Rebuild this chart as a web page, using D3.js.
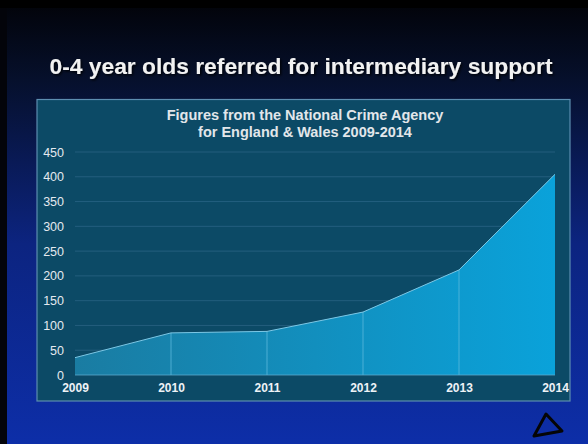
<!DOCTYPE html>
<html>
<head>
<meta charset="utf-8">
<script src="https://cdn.jsdelivr.net/npm/d3@7"></script>
<style>
  html, body { margin: 0; padding: 0; background: #000; }
  svg { display: block; }
</style>
</head>
<body>
<svg id="chart" width="588" height="444"></svg>
<script>
// Data
var years = [2009, 2010, 2011, 2012, 2013, 2014];
var referrals = [35, 85, 88, 127, 212, 405];
var yTicks = [0, 50, 100, 150, 200, 250, 300, 350, 400, 450];
var titleText = "0-4 year olds referred for intermediary support";
var subtitleLines = ["Figures from the National Crime Agency", "for England & Wales 2009-2014"];

var svg = d3.select("#chart"),
    width = +svg.attr("width"),
    height = +svg.attr("height");

var defs = svg.append("defs");

// bakgrund: mörk upptill, blå nertill
var bg = defs.append("linearGradient").attr("id", "bg")
    .attr("x1", 0).attr("y1", 0).attr("x2", 0).attr("y2", 1);
bg.append("stop").attr("offset", "0%").attr("stop-color", "#020308");
bg.append("stop").attr("offset", "18%").attr("stop-color", "#06102c");
bg.append("stop").attr("offset", "55%").attr("stop-color", "#0c2480");
bg.append("stop").attr("offset", "100%").attr("stop-color", "#0d2ea8");

// ytans gradient, mörkare till vänster
var ag = defs.append("linearGradient").attr("id", "areaGrad")
    .attr("x1", 0).attr("y1", 0).attr("x2", 1).attr("y2", 0);
ag.append("stop").attr("offset", "0%").attr("stop-color", "#1a7ca2");
ag.append("stop").attr("offset", "100%").attr("stop-color", "#0aa2da");

var shadow = defs.append("filter").attr("id", "shadow")
    .attr("x", "-5%").attr("y", "-30%").attr("width", "110%").attr("height", "160%");
shadow.append("feDropShadow").attr("dx", 1.5).attr("dy", 1.5)
    .attr("stdDeviation", 1).attr("flood-color", "#000").attr("flood-opacity", 0.8);

svg.append("rect").attr("width", width).attr("height", height).attr("fill", "url(#bg)");
// mörk kant till vänster och upptill
svg.append("rect").attr("width", 7).attr("height", height).attr("fill", "#03040a");
svg.append("rect").attr("width", width).attr("height", 8).attr("fill", "#000");

// titel
svg.append("text")
    .attr("x", 301).attr("y", 74)
    .attr("text-anchor", "middle")
    .attr("fill", "#f2f2f2")
    .attr("filter", "url(#shadow)")
    .style("font-family", "Liberation Sans, Arial, sans-serif")
    .style("font-size", "22.8px")
    .style("font-weight", "bold")
    .text(titleText);

// panel
svg.append("rect")
    .attr("x", 37).attr("y", 99.5)
    .attr("width", 533).attr("height", 301.5)
    .attr("fill", "#0c4a66")
    .attr("stroke", "#5d8eb0")
    .attr("stroke-width", 1.2);

subtitleLines.forEach(function(t, i) {
    svg.append("text")
        .attr("x", 305).attr("y", 120 + i * 16.5)
        .attr("text-anchor", "middle")
        .attr("fill", "#e2e6ea")
        .style("font-family", "Liberation Sans, Arial, sans-serif")
        .style("font-size", "14.5px")
        .style("font-weight", "bold")
        .text(t);
});

// skalor
var x = d3.scaleLinear().domain([2009, 2014]).range([75, 555]);
var y = d3.scaleLinear().domain([0, 450]).range([375, 152]);

// rutnät
svg.append("g").selectAll("line")
    .data(yTicks.filter(function(d) { return d > 0; }))
    .enter().append("line")
    .attr("x1", x(2009)).attr("x2", x(2014))
    .attr("y1", function(d) { return y(d); })
    .attr("y2", function(d) { return y(d); })
    .attr("stroke", "#2a6384")
    .attr("stroke-width", 0.8);

// y-axelns etiketter
var yAxis = d3.axisLeft(y).tickValues(yTicks).tickSize(0).tickPadding(0);
var yg = svg.append("g").attr("transform", "translate(64,0)").call(yAxis);
yg.select(".domain").remove();
yg.selectAll("text")
    .attr("fill", "#e4e9ef")
    .style("font-family", "Liberation Sans, Arial, sans-serif")
    .style("font-size", "12.5px");

// ytan
var data = years.map(function(yr, i) { return { year: yr, value: referrals[i] }; });
var area = d3.area()
    .x(function(d) { return x(d.year); })
    .y0(y(0))
    .y1(function(d) { return y(d.value); });
svg.append("path").datum(data)
    .attr("d", area)
    .attr("fill", "url(#areaGrad)");

// lodräta linjer
svg.append("g").selectAll("line")
    .data(data.slice(1, -1))
    .enter().append("line")
    .attr("x1", function(d) { return x(d.year); })
    .attr("x2", function(d) { return x(d.year); })
    .attr("y1", function(d) { return y(d.value); })
    .attr("y2", y(0))
    .attr("stroke", "#5cb8dc")
    .attr("stroke-width", 0.8);

// överkant
var line = d3.line()
    .x(function(d) { return x(d.year); })
    .y(function(d) { return y(d.value); });
svg.append("path").datum(data)
    .attr("d", line)
    .attr("fill", "none")
    .attr("stroke", "#7cc8e6")
    .attr("stroke-width", 1);

// baslinje
svg.append("line")
    .attr("x1", x(2009)).attr("x2", x(2014))
    .attr("y1", y(0)).attr("y2", y(0))
    .attr("stroke", "#5aa8cc")
    .attr("stroke-width", 0.8);

// x-axelns etiketter
var xAxis = d3.axisBottom(x).tickValues(years).tickFormat(d3.format("d")).tickSize(0).tickPadding(8);
var xg = svg.append("g").attr("transform", "translate(0," + y(0) + ")").call(xAxis);
xg.select(".domain").remove();
xg.selectAll("text")
    .attr("fill", "#eef2f6")
    .style("font-family", "Liberation Sans, Arial, sans-serif")
    .style("font-size", "12px")
    .style("font-weight", "bold");

// triangel nere till höger
svg.append("path")
    .attr("d", "M534,436 L546,414 L562,431 Z")
    .attr("fill", "none")
    .attr("stroke", "#050505")
    .attr("stroke-width", 3)
    .attr("stroke-linejoin", "round");
</script>
</body>
</html>
